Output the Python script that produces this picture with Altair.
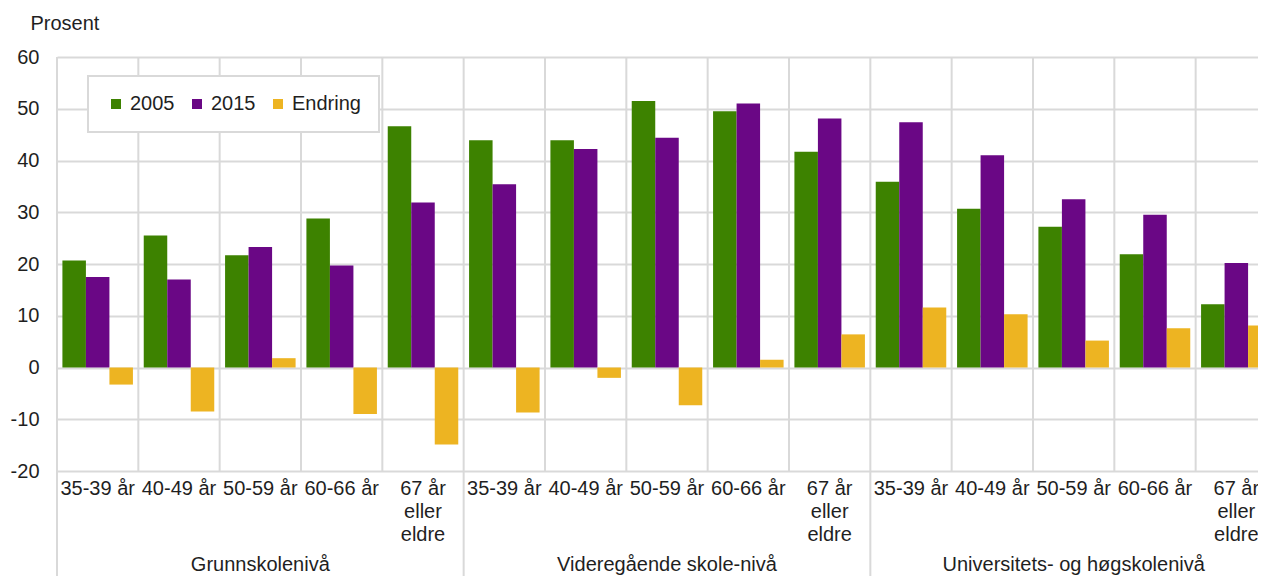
import altair as alt
import pandas as pd

levels = ["Grunnskolenivå", "Videregående skole-nivå", "Universitets- og høgskolenivå"]
ages = ["35-39 år", "40-49 år", "50-59 år", "60-66 år", "67 år eller eldre"]
series_names = ["2005", "2015", "Endring"]
colors = ["#3D8200", "#6A0785", "#EDB422"]

v2005 = [20.7, 25.5, 21.7, 28.8, 46.6,
         43.9, 43.9, 51.5, 49.5, 41.7,
         35.9, 30.7, 27.2, 21.9, 12.2]
v2015 = [17.5, 17.0, 23.3, 19.7, 31.9,
         35.4, 42.2, 44.4, 51.0, 48.1,
         47.4, 41.0, 32.5, 29.5, 20.2]
endring = [-3.3, -8.5, 1.8, -9.0, -14.9,
           -8.7, -2.0, -7.3, 1.5, 6.4,
           11.6, 10.3, 5.2, 7.6, 8.1]

W = 1201          # visible plot width (chart ends at the window edge)
XR = 1220         # full category range; the last bars run past the edge and are cut
H = 414
FONT = "Liberation Sans"
TXT = "#1f1f1f"
GRID = "#d9d9d9"

keys = [f"{lv}|{ag}" for lv in levels for ag in ages]

rows = []
for i, k in enumerate(keys):
    for s, vals in zip(series_names, [v2005, v2015, endring]):
        rows.append({"key": k, "series": s, "value": vals[i]})
bars_df = pd.DataFrame(rows)

sep_df = pd.DataFrame({"key": keys,
                       "group_start": [i % len(ages) == 0 for i in range(len(keys))]})
grp_df = pd.DataFrame({"key": [f"{lv}|{ages[2]}" for lv in levels], "label": levels})

x_scale = alt.Scale(domain=keys, paddingInner=0, paddingOuter=0, range=[0, XR])
y_scale = alt.Scale(domain=[-20, 60], nice=False, zero=False)

label_expr = ("split(datum.label, '|')[1] == '67 år eller eldre' ? "
              "['67 år', 'eller', 'eldre'] : split(datum.label, '|')[1]")

base_x_axis = alt.Axis(labelExpr=label_expr, labelAngle=0, labelFont=FONT, labelFontSize=20,
                       labelColor=TXT, labelPadding=7, ticks=False, domain=False, grid=False,
                       labelOverlap=False, labelBound=False, labelFlush=False, labelLimit=300,
                       labelLineHeight=23, labelBaseline="top", title=None)

y_axis = alt.Axis(values=list(range(-20, 61, 10)), grid=True, gridColor=GRID, gridWidth=2,
                  ticks=False, domain=False, labelFont=FONT, labelFontSize=20, labelColor=TXT,
                  labelExpr="toString(datum.value)",
                  labelPadding=18, title="Prosent", titleAngle=0, titleAlign="left",
                  titleBaseline="middle", titleX=-27, titleY=-34, titleFont=FONT,
                  titleFontSize=20, titleFontWeight="normal", titleColor=TXT)

minor_rules = alt.Chart(sep_df).transform_filter("!datum.group_start").mark_rule(
    color=GRID, strokeWidth=2).encode(
    x=alt.X("key:N", scale=x_scale, bandPosition=0, axis=base_x_axis),
    y=alt.datum(60, scale=y_scale, axis=y_axis),
    y2=alt.datum(-20),
)

group_rules = alt.Chart(sep_df).transform_filter("datum.group_start").mark_rule(
    color=GRID, strokeWidth=2).encode(
    x=alt.X("key:N", scale=x_scale, bandPosition=0),
    y=alt.value(0),
    y2=alt.value(H + 200),
)

bars = alt.Chart(bars_df).mark_bar().encode(
    x=alt.X("key:N", scale=x_scale),
    xOffset=alt.XOffset("series:N", sort=series_names,
                        scale=alt.Scale(paddingInner=0, paddingOuter=0.23)),
    y=alt.Y("value:Q", scale=y_scale),
    y2=alt.datum(0),
    color=alt.Color("series:N", sort=series_names,
                    scale=alt.Scale(domain=series_names, range=colors),
                    legend=alt.Legend(title=None, orient="none", legendX=31, legendY=19,
                                      direction="horizontal", fillColor="white",
                                      strokeColor=GRID, padding=18, symbolType="square",
                                      symbolSize=100, symbolStrokeWidth=0,
                                      labelFont=FONT, labelFontSize=20, labelColor=TXT,
                                      columnPadding=12, labelOffset=4)),
)

group_text = alt.Chart(grp_df).mark_text(font=FONT, fontSize=20, color=TXT,
                                         baseline="middle", align="center").encode(
    x=alt.X("key:N", scale=x_scale),
    y=alt.value(H + 94),
    text="label:N",
)

chart = alt.layer(minor_rules, group_rules, bars, group_text).properties(
    width=W, height=H,
    autosize=alt.AutoSizeParams(type="none"),
    padding={"left": 49, "top": 49, "right": 0, "bottom": 105},
).configure_view(stroke=None).configure_legend(strokeWidth=2)

chart.save("out.html", embed_options={"renderer": "svg", "actions": False})
